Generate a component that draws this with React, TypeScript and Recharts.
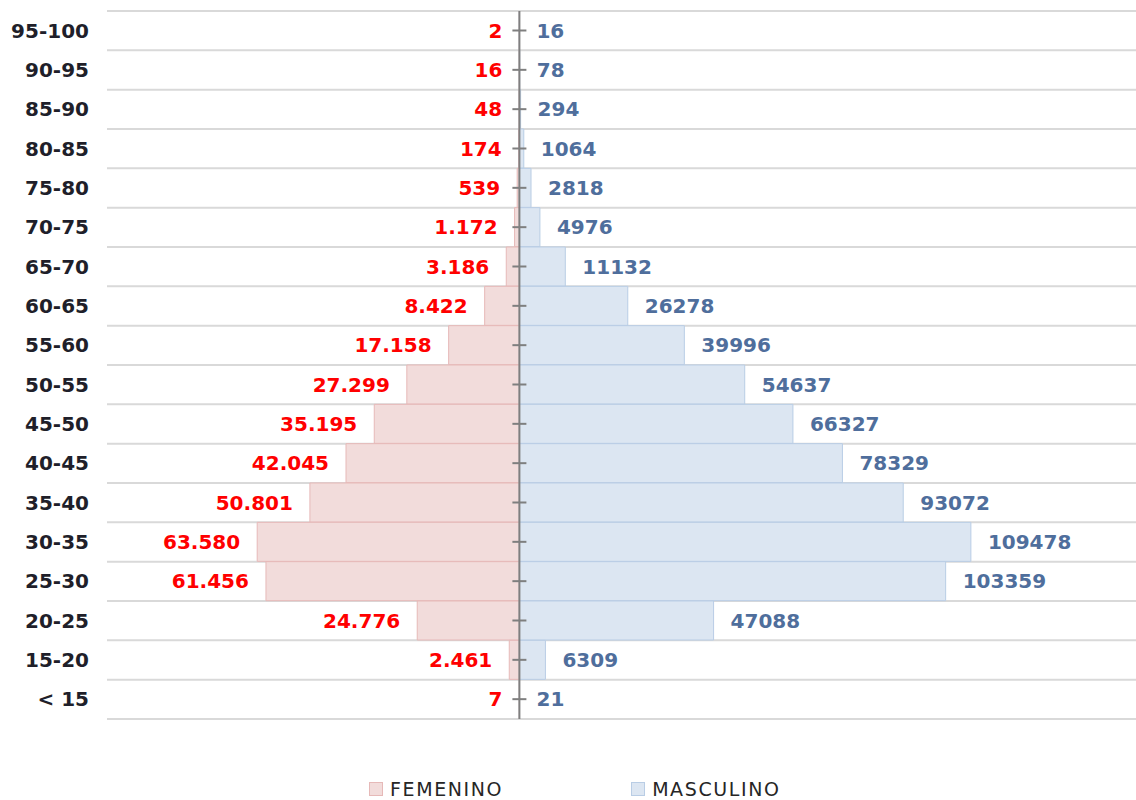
import React from "react";
import {
  BarChart,
  Bar,
  XAxis,
  YAxis,
  CartesianGrid,
  ReferenceLine,
  Legend,
  LabelList,
} from "recharts";

// age groups, top to bottom
const ageGroups = [
  "95-100", "90-95", "85-90", "80-85", "75-80", "70-75", "65-70", "60-65", "55-60",
  "50-55", "45-50", "40-45", "35-40", "30-35", "25-30", "20-25", "15-20", "< 15",
];

const femenino = [
  2, 16, 48, 174, 539, 1172, 3186, 8422, 17158,
  27299, 35195, 42045, 50801, 63580, 61456, 24776, 2461, 7,
];

const masculino = [
  16, 78, 294, 1064, 2818, 4976, 11132, 26278, 39996,
  54637, 66327, 78329, 93072, 109478, 103359, 47088, 6309, 21,
];

const data = ageGroups.map((age, i) => ({
  age,
  FEMENINO: -femenino[i],
  MASCULINO: masculino[i],
}));

const FONT = "'DejaVu Sans', Verdana, sans-serif";

const colors = {
  FEMENINO: { fill: "#f2dcdb", stroke: "#e6b9b8" },
  MASCULINO: { fill: "#dce6f2", stroke: "#b9cde5" },
};

function formatEs(v: number) {
  return String(v).replace(/\B(?=(\d{3})+(?!\d))/g, ".");
}

function FemaleLabel(props: any) {
  const { x, y, width, height, index } = props;
  const end = Math.min(x, x + width);
  return (
    <text
      x={end - 17}
      y={y + height / 2}
      textAnchor='end'
      dominantBaseline='central'
      fill='#ff0000'
      fontSize={20}
      fontWeight='bold'
      fontFamily={FONT}
    >
      {formatEs(femenino[index])}
    </text>
  );
}

function MaleLabel(props: any) {
  const { x, y, width, height, index } = props;
  const zero = Math.min(x, x + width);
  const end = Math.max(x, x + width);
  const cy = y + height / 2;
  return (
    <g>
      <line x1={zero - 7} x2={zero + 7} y1={cy} y2={cy} stroke='#7f7f7f' strokeWidth={2} />
      <text
        x={end + 17}
        y={cy}
        textAnchor='start'
        dominantBaseline='central'
        fill='#4f6e9c'
        fontSize={20}
        fontWeight='bold'
        fontFamily={FONT}
      >
        {masculino[index]}
      </text>
    </g>
  );
}

// grid lines sit on the row boundaries, not on the tick centres
const rowBoundaries = ({ offset }: any) => {
  const step = offset.height / ageGroups.length;
  const lines = ageGroups.map((_, i) => offset.top + i * step);
  lines.push(offset.top + offset.height);
  return lines;
};

function LegendContent(props: any) {
  const { payload = [] } = props;
  return (
    <div
      style={{
        display: "flex",
        gap: 128,
        fontFamily: FONT,
        fontSize: 19,
        letterSpacing: 1.6,
        color: "#262626",
      }}
    >
      {payload.map((item: any) => {
        const c = colors[item.value as keyof typeof colors];
        return (
          <span key={item.value} style={{ display: "flex", alignItems: "center", gap: 7 }}>
            <span
              style={{
                display: "inline-block",
                width: 12,
                height: 12,
                background: c.fill,
                border: `1px solid ${c.stroke}`,
              }}
            />
            {item.value}
          </span>
        );
      })}
    </div>
  );
}

export default function App() {
  return (
    <div
      style={{
        position: "absolute",
        left: 0,
        top: 0,
        width: 1136,
        height: 800,
        overflow: "hidden",
        background: "#fff",
      }}
    >
      <BarChart
        width={1138}
        height={800}
        data={data}
        layout='vertical'
        stackOffset='sign'
        barCategoryGap={0}
        margin={{ top: 11, right: 0, left: 0, bottom: 59 }}
      >
        <CartesianGrid
          vertical={false}
          stroke='#d9d9d9'
          strokeWidth={2}
          horizontalCoordinatesGenerator={rowBoundaries}
        />
        <XAxis type='number' domain={[-100000, 150000]} hide />
        <YAxis
          type='category'
          dataKey='age'
          width={107}
          axisLine={false}
          tickLine={false}
          tickMargin={12}
          tick={{ fill: "#1f1f2a", fontSize: 20, fontWeight: "bold", fontFamily: FONT }}
        />
        <Bar
          dataKey='FEMENINO'
          stackId='pyramid'
          fill={colors.FEMENINO.fill}
          stroke={colors.FEMENINO.stroke}
          isAnimationActive={false}
        >
          <LabelList content={FemaleLabel} />
        </Bar>
        <Bar
          dataKey='MASCULINO'
          stackId='pyramid'
          fill={colors.MASCULINO.fill}
          stroke={colors.MASCULINO.stroke}
          isAnimationActive={false}
        >
          <LabelList content={MaleLabel} />
        </Bar>
        <ReferenceLine x={0} stroke='#7f7f7f' strokeWidth={2} />
        <Legend
          content={LegendContent}
          wrapperStyle={{ left: 369, top: 778, width: 700 }}
        />
      </BarChart>
    </div>
  );
}
